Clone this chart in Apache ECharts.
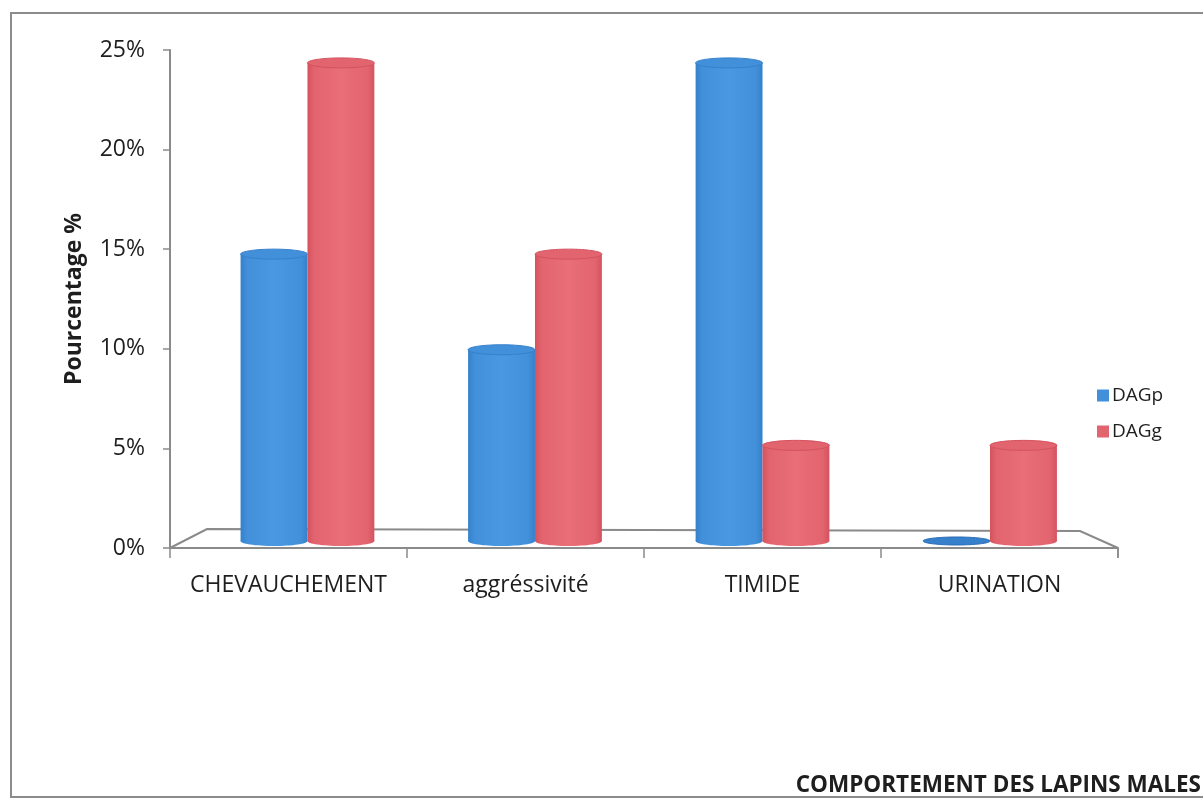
<!DOCTYPE html>
<html>
<head>
<meta charset="utf-8">
<script src="https://cdn.jsdelivr.net/npm/echarts@6/dist/echarts.min.js"></script>
<style>
  html, body { margin: 0; padding: 0; background: #fff; }
  #chart { width: 1203px; height: 800px; }
</style>
</head>
<body>
<div id="chart"></div>
<script>
// Behaviour categories and percentages per group
const categories = ['CHEVAUCHEMENT', 'aggréssivité', 'TIMIDE', 'URINATION'];
const seriesNames = ['DAGp', 'DAGg'];
const dagp = [15, 10, 25, 0];
const dagg = [25, 15, 5, 5];
const yTicks = [0, 5, 10, 15, 20, 25];

const FONT = '"Open Sans", Lato, sans-serif';
const TEXT = '#1e1e1e';
const COLORS = ['#4290da', '#e2646f'];
const DARK = ['#3680cc', '#d4525e'];
const LIGHT = ['#4a98e0', '#e86e78'];

// depth of the bars inside the 3D box (scale toward the far plane)
const DEPTH = 0.96;

function cylinderFill(s) {
  return new echarts.graphic.LinearGradient(0, 0, 1, 0, [
    { offset: 0, color: DARK[s] },
    { offset: 0.1, color: COLORS[s] },
    { offset: 0.5, color: LIGHT[s] },
    { offset: 0.9, color: COLORS[s] },
    { offset: 1, color: DARK[s] }
  ]);
}

function cylinder(params, api) {
  const s = params.seriesIndex;
  const ci = api.value(0);
  const v = api.value(1);
  const band = api.size([1, 0])[0];
  const w = band * 0.294;
  // vanishing point for the perspective box
  const vp = api.coord([1.5, 8.8]);
  const c = api.coord([ci, 0]);
  const cx0 = c[0] + (s === 0 ? -w / 2 : w / 2);
  const proj = (x, y) => [vp[0] + (x - vp[0]) * DEPTH, vp[1] + (y - vp[1]) * DEPTH];
  const b = proj(cx0, c[1]);
  const t = proj(cx0, api.coord([ci, v])[1]);
  const rw = w * DEPTH;
  const rx = rw / 2, ry = 5;
  const children = [];
  if (b[1] - t[1] > 0.5) {
    children.push({
      type: 'rect',
      shape: { x: b[0] - rx, y: t[1], width: rw, height: b[1] - t[1] },
      style: { fill: cylinderFill(s) }
    });
    children.push({
      type: 'ellipse',
      shape: { cx: b[0], cy: b[1], rx: rx, ry: ry },
      style: { fill: cylinderFill(s) }
    });
    children.push({
      type: 'ellipse',
      shape: { cx: t[0], cy: t[1], rx: rx, ry: ry },
      style: { fill: COLORS[s], stroke: DARK[s], lineWidth: 1 }
    });
  } else {
    children.push({
      type: 'ellipse',
      shape: { cx: b[0], cy: b[1], rx: rx, ry: ry - 1 },
      style: { fill: DARK[s], stroke: '#2a6db5', lineWidth: 1 }
    });
  }
  return { type: 'group', children: children };
}

const chart = echarts.init(document.getElementById('chart'), null, { renderer: 'canvas' });

const option = {
  backgroundColor: '#fff',
  animation: false,
  textStyle: { fontFamily: FONT },
  title: {
    text: 'COMPORTEMENT DES LAPINS MALES',
    right: 2,
    top: 774,
    padding: 0,
    textStyle: { fontFamily: FONT, fontWeight: 'bold', fontSize: 22.5, color: TEXT }
  },
  grid: { left: 170, right: 85, top: 50, bottom: 252, containLabel: false },
  legend: {
    data: seriesNames.map((n, i) => ({ name: n, icon: 'rect', itemStyle: { color: COLORS[i] } })),
    orient: 'vertical',
    left: 1092,
    top: 381,
    itemWidth: 12,
    itemHeight: 12,
    itemGap: 17,
    textStyle: { fontFamily: FONT, fontSize: 19, color: TEXT, padding: [0, 0, 0, -2] }
  },
  xAxis: {
    type: 'category',
    data: categories,
    boundaryGap: true,
    axisLine: { show: true, lineStyle: { color: '#8a8a8a', width: 2 } },
    axisTick: { show: true, length: 10, lineStyle: { color: '#8a8a8a', width: 1.5 } },
    axisLabel: { interval: 0, margin: 26, fontFamily: FONT, fontSize: 23, color: TEXT }
  },
  yAxis: {
    type: 'value',
    min: 0,
    max: 25,
    interval: 5,
    axisLine: { show: true, lineStyle: { color: '#8a8a8a', width: 2 } },
    axisTick: { show: true, length: 7, lineStyle: { color: '#8a8a8a', width: 1.5 } },
    splitLine: { show: false },
    axisLabel: {
      margin: 25, fontFamily: FONT, fontSize: 23, color: TEXT,
      formatter: v => (yTicks.indexOf(v) >= 0 ? v + '%' : '')
    },
    name: 'Pourcentage %',
    nameLocation: 'middle',
    nameGap: 84,
    nameRotate: 90,
    nameTextStyle: { fontFamily: FONT, fontWeight: 'bold', fontSize: 23, color: TEXT }
  },
  series: [
    {
      name: seriesNames[0], type: 'custom', renderItem: cylinder,
      itemStyle: { color: COLORS[0] },
      encode: { x: 0, y: 1 },
      data: dagp.map((v, i) => [i, v]), z: 3
    },
    {
      name: seriesNames[1], type: 'custom', renderItem: cylinder,
      itemStyle: { color: COLORS[1] },
      encode: { x: 0, y: 1 },
      data: dagg.map((v, i) => [i, v]), z: 4
    }
  ]
};

chart.setOption(option);

// Floor of the 3D box and the outer frame
const fl = chart.convertToPixel({ xAxisIndex: 0, yAxisIndex: 0 }, [0, 0]);
const band = chart.convertToPixel({ xAxisIndex: 0 }, 1) - chart.convertToPixel({ xAxisIndex: 0 }, 0);
const x0 = fl[0] - band / 2;
const x1 = x0 + band * categories.length;
const y0 = fl[1];
chart.setOption({
  graphic: [
    {
      type: 'polyline', z: 1,
      shape: { points: [[x0, y0], [x0 + 37, y0 - 19], [x1 - 38, y0 - 17], [x1, y0]] },
      style: { stroke: '#8a8a8a', lineWidth: 2, fill: null }
    },
    {
      type: 'line', z: 1,
      shape: { x1: x1, y1: y0, x2: x1, y2: y0 + 10 },
      style: { stroke: '#8a8a8a', lineWidth: 1.5 }
    },
    {
      type: 'rect', z: 0, silent: true,
      shape: { x: 11, y: 13, width: 1210, height: 784 },
      style: { stroke: '#8c8c8c', lineWidth: 2, fill: null }
    }
  ]
});
</script>
</body>
</html>
